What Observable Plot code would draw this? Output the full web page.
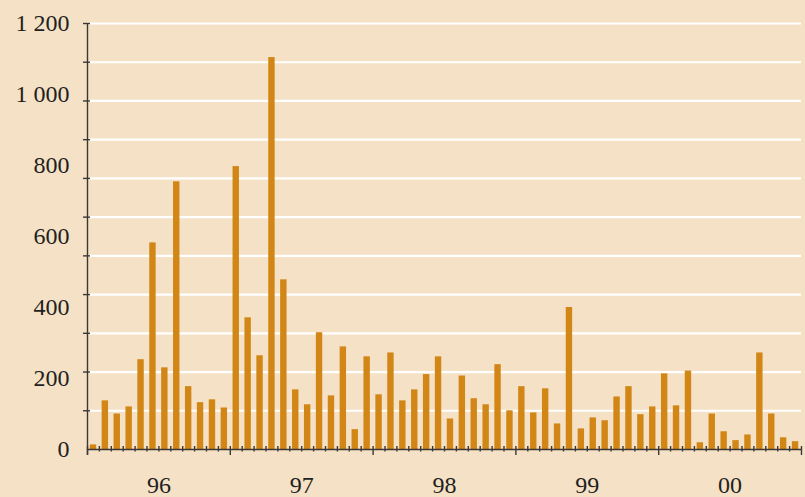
<!DOCTYPE html>
<html>
<head>
<meta charset="utf-8">
<script src="https://cdn.jsdelivr.net/npm/d3@7"></script>
<script src="https://cdn.jsdelivr.net/npm/@observablehq/plot@0.6"></script>
<style>
  html, body { margin: 0; padding: 0; background: #F4E1C6; }
  svg { display: block; }
</style>
</head>
<body>
<script>
// Year labels (x axis) and monthly values, Jan–Dec for each year
const yearLabels = ["96", "97", "98", "99", "00"];
const values1996 = [13, 137, 100, 120, 253, 582, 230, 754, 177, 132, 140, 117];
const values1997 = [797, 371, 264, 1104, 478, 168, 126, 329, 151, 289, 56, 261];
const values1998 = [154, 272, 137, 168, 211, 261, 86, 207, 143, 126, 239, 109];
const values1999 = [177, 103, 171, 72, 400, 58, 89, 81, 148, 177, 98, 120];
const values2000 = [213, 123, 221, 19, 100, 50, 25, 41, 272, 100, 33, 22];

// Y axis labels and the (finer) gridline / tick values
const yLabels = [0, 200, 400, 600, 800, 1000, 1200];
const gridTicks = [109.09, 218.18, 327.27, 436.36, 545.45, 654.55, 763.64, 872.73, 981.82, 1090.91, 1200];

const allYears = [values1996, values1997, values1998, values1999, values2000];
const data = [];
allYears.forEach((arr, yi) => arr.forEach((v, m) => data.push({i: yi * 12 + m, value: v})));

const monthBounds = d3.range(0, 61).filter(k => k % 12 !== 0);
const yearBounds = d3.range(0, 61, 12);
const yearMid = yearLabels.map((label, k) => ({label, x: k * 12 + 6}));

const AXIS = "#3b3735";
const BAR = "#D28615";
const TEXT = "#231f20";
const fmt = d => d3.format(",")(d).replace(",", " ");

const chart = Plot.plot({
  width: 805,
  height: 497,
  marginLeft: 87,
  marginRight: 4,
  marginTop: 23,
  marginBottom: 48,
  style: {background: "#F4E1C6", fontFamily: "Liberation Serif"},
  x: {domain: [0, 60], axis: null},
  y: {domain: [0, 1200], axis: null},
  marks: [
    Plot.ruleY(gridTicks, {stroke: "white", strokeWidth: 2.2}),
    Plot.rectY(data, {x1: "i", x2: d => d.i + 1, y: "value", fill: BAR, insetLeft: 2.75, insetRight: 2.75}),
    // y axis line and ticks
    Plot.ruleX([0], {y1: 1200, y2: 0, stroke: AXIS, strokeWidth: 1.4, insetBottom: -6}),
    Plot.ruleY(gridTicks, {x1: 0, x2: 0, insetLeft: -4, insetRight: -3, stroke: AXIS, strokeWidth: 1.4}),
    Plot.text(yLabels, {x: 0, y: d => d, text: fmt, textAnchor: "end", dx: -18, fontSize: 24, fill: TEXT}),
    // x axis line and ticks
    Plot.ruleY([0], {stroke: AXIS, strokeWidth: 1.4}),
    Plot.ruleX(monthBounds, {y1: 0, y2: 0, insetTop: -3, insetBottom: -2.5, stroke: AXIS, strokeWidth: 1.4}),
    Plot.ruleX(yearBounds, {y1: 0, y2: 0, insetTop: -3, insetBottom: -6, stroke: AXIS, strokeWidth: 1.4}),
    Plot.text(yearMid, {x: "x", y: 0, text: "label", dy: 36, fontSize: 24, fill: TEXT})
  ]
});
document.body.appendChild(chart);
</script>
</body>
</html>
